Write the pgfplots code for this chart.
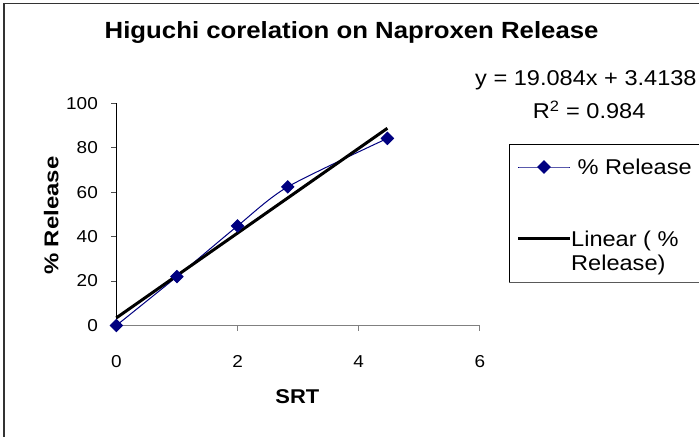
\documentclass[border=0pt]{standalone}
\usepackage{pgfplots}
\pgfplotsset{compat=1.18}
\usepackage{fontspec}
\setmainfont{Liberation Sans}[FakeStretch=1.1]
\newfontfamily\ylabfont{Liberation Sans}[FakeStretch=1.2]
\definecolor{navy}{RGB}{0,0,128}
\definecolor{axgray}{RGB}{128,128,128}
\newcommand{\tickfont}{\fontsize{17.3}{19.5}\selectfont}
\begin{document}
\begin{tikzpicture}
\begin{axis}[
  scale only axis,
  width=363.7bp, height=222.2bp,
  at={(116.3bp,111.5bp)}, anchor=south west,
  xmin=0, xmax=6, ymin=0, ymax=100,
  xtick={0,2,4,6}, ytick={0,20,40,60,80,100},
  axis x line*=bottom, axis y line*=left,
  x axis line style={axgray, line width=1bp},
  y axis line style={black, line width=1bp},
  xtick style={axgray, line width=1bp},
  ytick style={black!70, line width=1bp},
  tick align=outside, major tick length=5bp,
  /pgf/number format/assume math mode=true,
  tick label style={font=\tickfont},
  xticklabel style={inner sep=0pt, anchor=north, yshift=-24.5bp},
  yticklabel style={inner sep=0pt, anchor=east, xshift=-13.3bp},
  title={Higuchi corelation on Naproxen Release},
  title style={at={(axis description cs:0.647,1.265)}, anchor=base, inner sep=0pt,
    font=\fontsize{23.5}{26}\selectfont\bfseries},
  xlabel={SRT},
  xlabel style={at={(axis description cs:0.4977,-0.3506)}, anchor=base, inner sep=0pt,
    font=\fontsize{20}{23}\selectfont\bfseries},
  ylabel={\% Release},
  ylabel style={at={(axis description cs:-0.1595,0.494)}, anchor=base, inner sep=0pt,
    font=\ylabfont\fontsize{20}{23}\selectfont\bfseries},
  clip=false,
  legend image code/.code={\draw[mark repeat=2,mark phase=2,#1] plot coordinates {(0bp,0bp) (25.6bp,0bp) (51.3bp,0bp)};},
  legend style={at={(axis description cs:1.1009,0.9617)}, anchor=north west,
    draw=none, fill=none, inner xsep=0pt, inner ysep=0pt,
    column sep=0bp, row sep=8.5bp,
    nodes={inner sep=0pt, text depth={}, text height={}},
    font=\fontsize{21.5}{24.5}\selectfont},
  legend cell align=left,
]
\addplot[navy, line width=1bp, smooth, tension=0.45,
  mark=square*, mark size=4.3bp, mark options={rotate=45, fill=navy, draw=navy, solid}]
  coordinates {(0,0) (1,22) (2,44.8) (2.828,62.4) (4.472,84.2)};
\addlegendentry{\raisebox{0pt}[62.7bp][47.3bp]{\ \% Release}}
\addplot[black, line width=3bp] coordinates {(0,3.4138) (4.472,88.76)};
\addlegendentry{\raisebox{0pt}[15.5bp][0pt]{Linear ( \%}}
\addlegendimage{empty legend}
\addlegendentry{\raisebox{0pt}[15.5bp][0pt]{Release)}}
\end{axis}
\node[anchor=base west, inner sep=0pt, font=\fontsize{21.5}{24}\selectfont] at (475bp,351.3bp) {y = 19.084x + 3.4138};
\node[anchor=base west, inner sep=0pt, font=\fontsize{21.5}{24}\selectfont] at (532.7bp,318bp) {R\textsuperscript{2} = 0.984};
\draw[black, line width=1bp] (720bp,292.7bp) -- (509.3bp,292.7bp) -- (509.3bp,154.3bp);
\draw[black!65, line width=1.5bp] (509.3bp,154.3bp) -- (720bp,154.3bp);
\draw[black!80, line width=1.6bp] (3.7bp,-10bp) -- (3.7bp,433.5bp) -- (720bp,433.5bp);
\pgfresetboundingbox
\path[use as bounding box] (0,0) rectangle (699bp,437bp);
\end{tikzpicture}
\end{document}
